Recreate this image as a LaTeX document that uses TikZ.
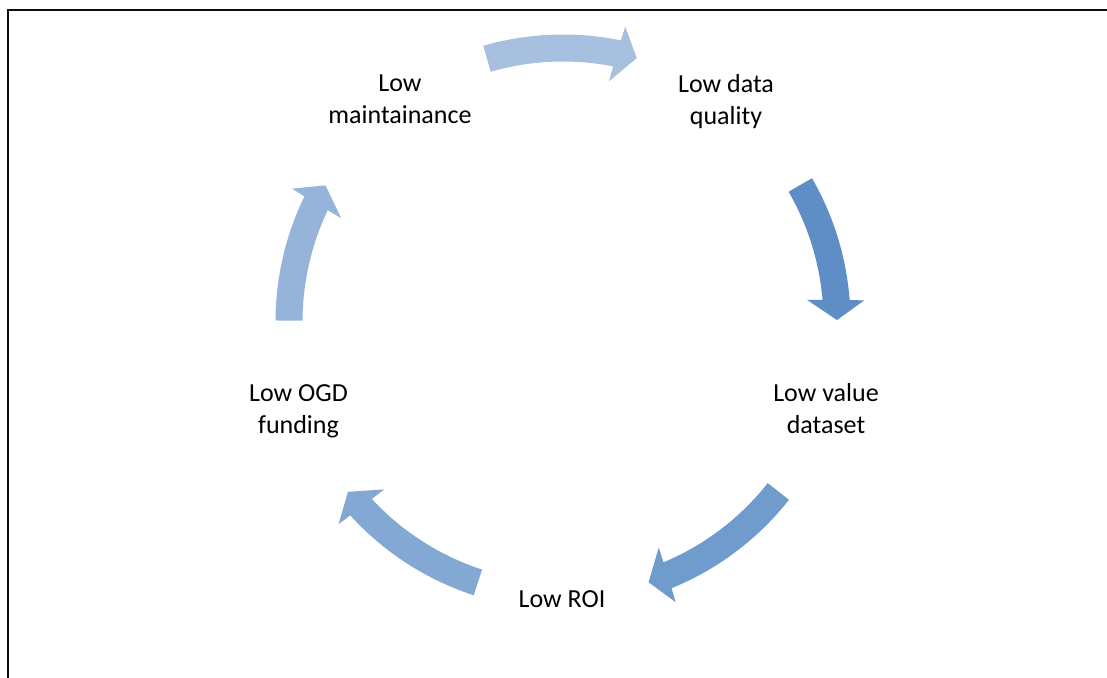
\documentclass[tikz,border=0pt]{standalone}
\usepackage{fontspec}
\setmainfont{Carlito}
\usetikzlibrary{calc}

\definecolor{arrowA}{HTML}{A7C0DF}
\definecolor{arrowB}{HTML}{5F8DC5}
\definecolor{arrowC}{HTML}{709CCD}
\definecolor{arrowD}{HTML}{83A8D3}
\definecolor{arrowE}{HTML}{96B4DA}
\definecolor{framecol}{HTML}{0D0D0D}

% Curved block arrow on the cycle circle around (C), running clockwise
% #1 colour, #2 tail angle, #3 tip angle
\newcommand\cyclearrow[3]{%
  \pgfmathsetmacro\angOut{#3+3.98}%
  \pgfmathsetmacro\angIn{#3+4.5}%
  \pgfmathsetmacro\barbOut{#3+3.7}%
  \pgfmathsetmacro\barbIn{#3+4.8}%
  \fill[#1] ($(C)+(#2:287.5)$) arc[start angle=#2, end angle=\angOut, radius=287.5]
    -- ($(C)+(\barbOut:302)$)
    -- ($(C)+(#3:274)$)
    -- ($(C)+(\barbIn:245)$)
    -- ($(C)+(\angIn:260.5)$)
    arc[start angle=\angIn, end angle=#2, radius=260.5] -- cycle;
}

\tikzset{
  label/.style={font=\fontsize{26}{32}\selectfont, align=center, inner sep=0pt, text=black}
}

\begin{document}
\begin{tikzpicture}[x=1pt, y=1pt]
  \useasboundingbox (0,0) rectangle (1107,677);
  \fill[white] (0,0) rectangle (1107,677);

  % frame
  \coordinate (fb) at (7.5,-5);
  \coordinate (fc) at (7.5,666.8);
  \coordinate (fr) at (1115,666.8);
  \draw[framecol, line width=2pt] (fb) -- (fc) -- (fr);

  \coordinate (C) at (563,355);

  % arrows
  \cyclearrow{arrowA}{106.1}{74.4}
  \cyclearrow{arrowB}{30.0}{0.4}
  \cyclearrow{arrowC}{-38.2}{-71.8}
  \cyclearrow{arrowD}{-108.1}{-141.7}
  \cyclearrow{arrowE}{179.7}{150.1}

  % labels
  \node[label] (maint) at (400,578.2) {Low\\maintainance};
  \node[label] (qual)  at (726,575.4) {Low data\\quality};
  \node[label] (value) at (826,268.2) {Low value\\dataset};
  \node[label] (roi)   at (562,77.4) {Low ROI};
  \node[label] (ogd)   at (298.5,265.6) {Low OGD\\funding};
\end{tikzpicture}
\end{document}
